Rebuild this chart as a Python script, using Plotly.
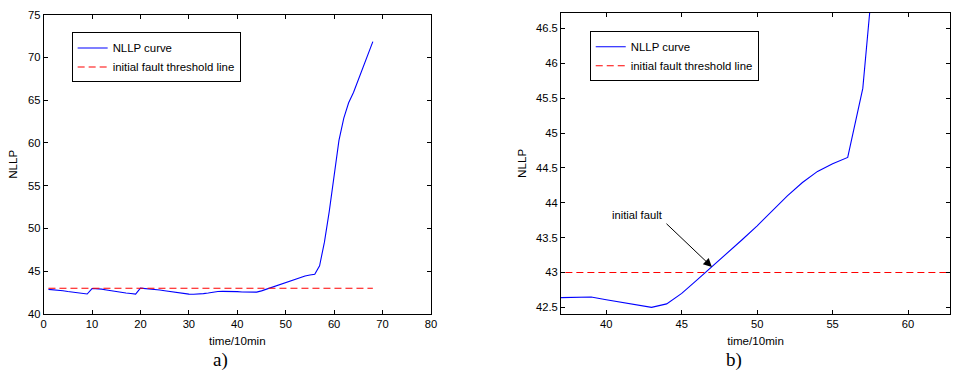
import plotly.graph_objects as go

# NLLP values sampled every 10 minutes (time index 1..68)
time_idx = list(range(1, 69))
nllp = [
    42.88, 42.85, 42.80, 42.72, 42.63, 42.55, 42.47, 42.42, 42.33, 42.97,
    42.95, 42.90, 42.80, 42.70, 42.60, 42.50, 42.45, 42.40, 42.32, 43.02,
    42.98, 42.93, 42.87, 42.80, 42.72, 42.63, 42.53, 42.45, 42.38, 42.32,
    42.30, 42.32, 42.38, 42.45, 42.55, 42.62, 42.64, 42.65, 42.65, 42.61,
    42.57, 42.54, 42.50, 42.55, 42.70, 42.89, 43.08, 43.27, 43.47, 43.67,
    43.88, 44.10, 44.29, 44.45, 44.56, 44.65, 45.64, 48.40, 52.00, 56.50,
    60.30, 62.90, 64.70, 65.90, 67.40, 69.00, 70.40, 71.85,
]
threshold = 43.0
threshold_span = [1, 68]
fault_point = (47, 43.08)

FONT = "Liberation Sans, Arial, sans-serif"
BLUE = "#0000ff"
RED = "#ff0000"

fig = go.Figure()

for xa, ya, leg in [("x", "y", "legend"), ("x2", "y2", "legend2")]:
    fig.add_trace(go.Scatter(
        x=time_idx, y=nllp, mode="lines", name="NLLP curve",
        line=dict(color=BLUE, width=1.1), xaxis=xa, yaxis=ya, legend=leg,
    ))
    fig.add_trace(go.Scatter(
        x=threshold_span if xa == "x" else [30, 70],
        y=[threshold, threshold], mode="lines",
        name="initial fault threshold line",
        line=dict(color=RED, width=1.1, dash="7px,4px"),
        xaxis=xa, yaxis=ya, legend=leg,
    ))

W, H = 958, 380
axis_common = dict(
    showline=True, linecolor="black", linewidth=1, mirror="ticks",
    ticks="inside", ticklen=4, tickcolor="black", showgrid=False,
    zeroline=False, tickfont=dict(family=FONT, size=11.2, color="black"),
)
title_font = dict(family=FONT, size=11.6, color="black")

fig.update_layout(
    width=W, height=H,
    margin=dict(l=0, r=0, t=0, b=0),
    paper_bgcolor="white", plot_bgcolor="white",
    font=dict(family=FONT, size=11, color="black"),
    xaxis=dict(domain=[41 / W, 432 / W], range=[0, 80], dtick=10,
               anchor="y", title=dict(text="time/10min", standoff=7,
                                      font=title_font), **axis_common),
    yaxis=dict(domain=[(H - 318) / H, (H - 9) / H], range=[40, 75], dtick=5,
               anchor="x", title=dict(text="NLLP", standoff=7,
                                      font=title_font), **axis_common),
    xaxis2=dict(domain=[563.3 / W, 956 / W], range=[37, 62.78], dtick=5,
                anchor="y2", title=dict(text="time/10min", standoff=7,
                                        font=title_font), **axis_common),
    yaxis2=dict(domain=[(H - 317.7) / H, (H - 7.3) / H], range=[42.41, 46.72],
                dtick=0.5, anchor="x2", title=dict(text="NLLP", standoff=6,
                                                   font=title_font),
                **axis_common),
    legend=dict(x=69.3 / W, y=1 - 27.3 / H, xanchor="left", yanchor="top",
                bgcolor="white", bordercolor="black", borderwidth=1,
                font=dict(family=FONT, size=11.4), tracegroupgap=0),
    legend2=dict(x=592.3 / W, y=1 - 26 / H, xanchor="left", yanchor="top",
                 bgcolor="white", bordercolor="black", borderwidth=1,
                 font=dict(family=FONT, size=11.4), tracegroupgap=0),
    showlegend=True,
)

# arrow pointing at the threshold crossing
fig.add_annotation(
    x=fault_point[0], y=fault_point[1], xref="x2", yref="y2",
    ax=43.89, ay=43.72, axref="x2", ayref="y2",
    text="", showarrow=True, arrowhead=2, arrowsize=1.7, arrowwidth=1,
    arrowcolor="black",
)
fig.add_annotation(
    x=42.09, y=43.82, xref="x2", yref="y2", text="initial fault",
    showarrow=False, font=dict(family=FONT, size=11.2, color="black"),
)

# panel labels
for label, xc in [("a)", 220), ("b)", 738)]:
    fig.add_annotation(
        x=xc / W, y=1 - 366 / H, xref="paper", yref="paper", text=label,
        showarrow=False, xanchor="center", yanchor="middle",
        font=dict(family="Liberation Serif, Times New Roman, serif",
                  size=19, color="black"),
    )

fig.write_html("out.html")
